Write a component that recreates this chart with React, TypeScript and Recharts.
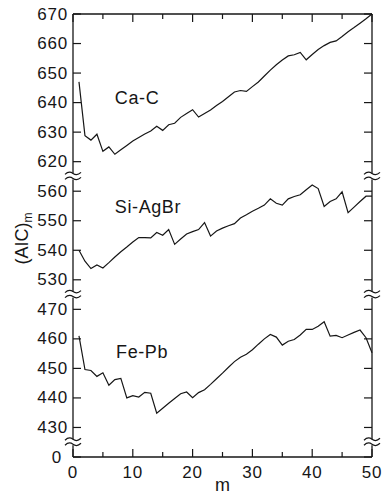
import { LineChart, Line, XAxis, YAxis, ReferenceDot } from "recharts";

// AIC(m) for three element pairs, drawn on one broken y-axis
// (0 | 430–470 | 530–560 | 620–670), m = 1..50.

const mValues = [
  1, 2, 3, 4, 5, 6, 7, 8, 9, 10, 11, 12, 13, 14, 15, 16, 17, 18, 19, 20, 21, 22, 23, 24, 25,
  26, 27, 28, 29, 30, 31, 32, 33, 34, 35, 36, 37, 38, 39, 40, 41, 42, 43, 44, 45, 46, 47, 48, 49, 50,
];

const caC = [
  647, 628.8, 627.3, 629.3, 623.5, 625, 622.5, 624, 625.5, 627, 628.2, 629.4, 630.4, 632, 630.6,
  632.5, 633, 635, 636.3, 637.6, 635.1, 636.3, 637.5, 639, 640.4, 642, 643.6, 644.1, 643.8, 645.4,
  647, 649, 651, 652.8, 654.4, 655.8, 656.2, 657, 654.5, 656.3, 658, 659.3, 660.4, 660.9, 662.4,
  664, 665.4, 666.9, 668.4, 670,
];

const siAgBr = [
  540, 536.3, 533.8, 535, 534, 535.8, 537.7, 539.5, 541.1, 542.8, 544.3, 544.3, 544.2, 546, 545.1,
  547, 542, 543.8, 545.5, 546.3, 547, 549.4, 544.8, 546.5, 547.5, 548.3, 549, 550.9, 552, 553.2,
  554.2, 555.3, 557.4, 555.9, 555.3, 557.4, 558.2, 558.8, 560.5, 562.1, 560.9, 554.8, 556.5, 557.4,
  559.8, 552.7, 554.6, 556.5, 558.3, 558.3,
];

const fePb = [
  461, 449.6, 449.3, 447.3, 448.5, 444.3, 446.2, 446.6, 440, 440.8, 440.3, 441.9, 441.6, 434.8,
  436.5, 438.2, 439.8, 441.4, 442, 440.1, 441.8, 442.8, 444.6, 446.5, 448.4, 450.4, 452.3, 453.8,
  454.8, 456.3, 458.2, 460, 461.5, 460.6, 457.9, 459.2, 459.8, 461.3, 463.2, 463.2, 464.3, 465.8,
  460.9, 461.2, 460.4, 461.3, 462.2, 463, 460.4, 455.3,
];

const yTickLabels = [0, 430, 440, 450, 460, 470, 530, 540, 550, 560, 620, 630, 640, 650, 660, 670];
const xTicks = [0, 5, 10, 15, 20, 25, 30, 35, 40, 45, 50];

const panelLabels = [
  { text: "Ca-C", m: 7, value: 641.6 },
  { text: "Si-AgBr", m: 7, value: 554.8 },
  { text: "Fe-Pb", m: 7.2, value: 455.4 },
];

// each visible band of the broken axis: real range -> position on a continuous scale
const bands = [
  { from: 430, to: 470, base: 10 },
  { from: 530, to: 560, base: 60 },
  { from: 620, to: 670, base: 100 },
];
const breakAt = [5, 55, 95];

function toScale(v: number): number {
  if (v === 0) return 0;
  const b = bands.find((s) => v >= s.from - 15 && v <= s.to + 15) ?? bands[0];
  return b.base + (v - b.from);
}

function fromScale(p: number): string {
  if (p === 0) return "0";
  const b = bands.find((s) => p >= s.base && p <= s.base + (s.to - s.from));
  return b ? String(b.from + (p - b.base)) : "";
}

const data = mValues.map((m, i) => ({
  m,
  ca: toScale(caC[i]),
  si: toScale(siAgBr[i]),
  fe: toScale(fePb[i]),
}));

const yTicks = [...yTickLabels.map(toScale), ...breakAt].sort((a, b) => a - b);

const INK = "#161616";
const FONT = "'Liberation Sans', Arial, Helvetica, sans-serif";
const GAP = 5;

function BreakMark({ cx, cy }: { cx: number; cy: number }) {
  const wave = (y: number) => `M${cx - 8},${y + 1} q4,-4 8,-1 t8,-1`;
  return (
    <g>
      <rect x={cx - 3} y={cy - 3} width={6} height={6} fill="#fff" />
      <path d={wave(cy - 3)} fill="none" stroke={INK} strokeWidth={1.2} />
      <path d={wave(cy + 2)} fill="none" stroke={INK} strokeWidth={1.2} />
    </g>
  );
}

function LeftTick(props: any) {
  const { x, y, payload } = props;
  const v = payload.value;
  const ax = x + GAP;
  if (breakAt.includes(v)) return <BreakMark cx={ax} cy={y} />;
  return (
    <g>
      <line x1={ax} x2={ax + 8} y1={y} y2={y} stroke={INK} strokeWidth={1.2} />
      <text
        x={v === 0 ? x - 6 : x}
        y={y}
        textAnchor="end"
        dominantBaseline="central"
        fontFamily={FONT}
        fontSize={17}
        letterSpacing={0.8}
        fill={INK}
      >
        {fromScale(v)}
      </text>
    </g>
  );
}

function RightTick(props: any) {
  const { x, y, payload } = props;
  const v = payload.value;
  if (breakAt.includes(v)) return <BreakMark cx={x} cy={y} />;
  return <line x1={x} x2={x - 8} y1={y} y2={y} stroke={INK} strokeWidth={1.2} />;
}

function BottomTick(props: any) {
  const { x, y, payload } = props;
  const major = payload.value % 10 === 0;
  return (
    <g>
      <line x1={x} x2={x} y1={y} y2={y - (major ? 8 : 5)} stroke={INK} strokeWidth={1.2} />
      {major && (
        <text
          x={x}
          y={y + 15}
          textAnchor="middle"
          dominantBaseline="central"
          fontFamily={FONT}
          fontSize={17}
          letterSpacing={0.8}
          fill={INK}
        >
          {payload.value}
        </text>
      )}
    </g>
  );
}

function TopTick(props: any) {
  const { x, y, payload } = props;
  const major = payload.value % 10 === 0;
  return <line x1={x} x2={x} y1={y} y2={y + (major ? 8 : 5)} stroke={INK} strokeWidth={1.2} />;
}

function YTitle(props: any) {
  const vb = props.viewBox;
  const cx = 28;
  const cy = vb.y + vb.height / 2 + 3;
  return (
    <text
      x={cx}
      y={cy}
      transform={`rotate(-90, ${cx}, ${cy})`}
      textAnchor="middle"
      fontFamily={FONT}
      fontSize={18}
      fill={INK}
    >
      (AIC)
      <tspan fontSize={12} dy={4}>
        m
      </tspan>
    </text>
  );
}

function XTitle(props: any) {
  const vb = props.viewBox;
  return (
    <text
      x={vb.x + vb.width / 2}
      y={vb.y + 28}
      textAnchor="middle"
      dominantBaseline="central"
      fontFamily={FONT}
      fontSize={18}
      fill={INK}
    >
      m
    </text>
  );
}

export default function App() {
  return (
    <div style={{ position: "absolute", left: 0, top: 0, width: 382, height: 497, background: "#fff" }}>
      <LineChart width={382} height={497} data={data} margin={{ top: 0, right: 0, bottom: 0, left: 0 }}>
        <XAxis
          dataKey="m"
          type="number"
          domain={[0, 50]}
          ticks={xTicks}
          interval={0}
          height={40}
          tickSize={0}
          tickMargin={0}
          tickLine={false}
          axisLine={{ stroke: INK, strokeWidth: 1.3 }}
          tick={<BottomTick />}
          label={<XTitle />}
        />
        <XAxis
          xAxisId="top"
          dataKey="m"
          orientation="top"
          type="number"
          domain={[0, 50]}
          ticks={xTicks}
          interval={0}
          height={14}
          tickSize={0}
          tickMargin={0}
          tickLine={false}
          axisLine={{ stroke: INK, strokeWidth: 1.3 }}
          tick={<TopTick />}
        />
        <YAxis
          type="number"
          domain={[0, 150]}
          ticks={yTicks}
          interval={0}
          width={73}
          tickSize={0}
          tickMargin={GAP}
          tickLine={false}
          axisLine={{ stroke: INK, strokeWidth: 1.3 }}
          tick={<LeftTick />}
          label={<YTitle />}
        />
        <YAxis
          yAxisId="right"
          orientation="right"
          type="number"
          domain={[0, 150]}
          ticks={yTicks}
          interval={0}
          width={10}
          tickSize={0}
          tickMargin={0}
          tickLine={false}
          axisLine={{ stroke: INK, strokeWidth: 1.3 }}
          tick={<RightTick />}
        />
        {/* transparent copy so the frame axes (top / right) get drawn */}
        <Line
          xAxisId="top"
          yAxisId="right"
          dataKey="ca"
          stroke="none"
          dot={false}
          activeDot={false}
          legendType="none"
          isAnimationActive={false}
        />
        <Line dataKey="ca" stroke={INK} strokeWidth={1.2} dot={false} isAnimationActive={false} />
        <Line dataKey="si" stroke={INK} strokeWidth={1.2} dot={false} isAnimationActive={false} />
        <Line dataKey="fe" stroke={INK} strokeWidth={1.2} dot={false} isAnimationActive={false} />
        {panelLabels.map((p) => (
          <ReferenceDot
            key={p.text}
            x={p.m}
            y={toScale(p.value)}
            r={0}
            fill="none"
            stroke="none"
            label={(lp: any) => (
              <text
                x={lp.viewBox.x}
                y={lp.viewBox.y}
                dominantBaseline="central"
                fontFamily={FONT}
                fontSize={18}
                letterSpacing={0.6}
                fill={INK}
              >
                {p.text}
              </text>
            )}
          />
        ))}
      </LineChart>
    </div>
  );
}
